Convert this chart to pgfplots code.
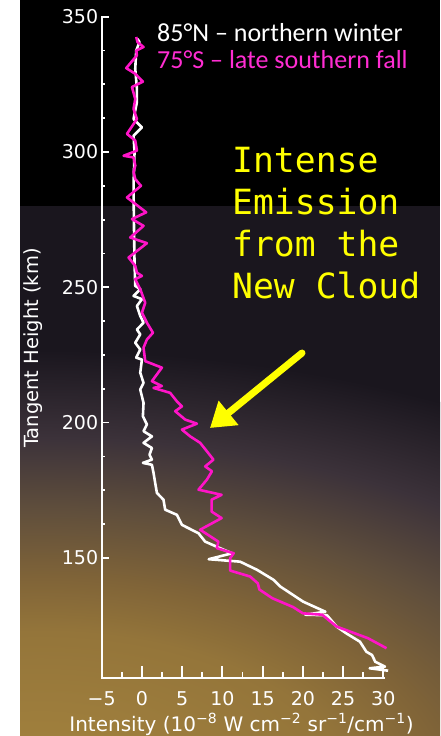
\documentclass[border=0pt]{standalone}
\usepackage{fontspec}
\setmainfont{DejaVu Sans}
\newfontfamily\legfont{Carlito}
\newfontfamily\yelfont{DejaVu Sans Mono}
\usepackage{pgfplots}
\pgfplotsset{compat=1.18}
\usetikzlibrary{arrows.meta}
\definecolor{mag}{RGB}{255,20,200}
\definecolor{legmag}{RGB}{255,45,210}
\definecolor{basec}{RGB}{26,22,30}
\definecolor{gA}{RGB}{165,132,62}
\definecolor{gB}{RGB}{148,117,58}
\definecolor{gC}{RGB}{128,100,56}
\definecolor{gD}{RGB}{95,78,60}
\definecolor{gE}{RGB}{60,50,58}
\definecolor{yel}{RGB}{255,255,0}
\pgfdeclareradialshading{glow}{\pgfpoint{0bp}{0bp}}{color(0bp)=(gA); color(9bp)=(gB); color(12bp)=(gC); color(16bp)=(gD); color(20bp)=(gE); color(25bp)=(basec); color(50bp)=(basec)}
\begin{document}
\begin{tikzpicture}[x=1pt,y=1pt]
\useasboundingbox (0,0) rectangle (440,-736);
\fill[white] (0,0) rectangle (20,-736);
\fill[black] (20,0) rectangle (440,-206);
\fill[basec] (20,-206) rectangle (440,-736);
\begin{scope}
\clip (20,-206) rectangle (440,-736);
\shade[shading=glow] (40,-790) ellipse [x radius=850, y radius=440];
\end{scope}
\begin{axis}[
  at={(101.7pt,-678pt)}, anchor=south west,
  scale only axis, width=281.6pt, height=661.3pt,
  xmin=-5, xmax=30, ymin=105.6, ymax=350,
  axis lines*=left,
  axis line style={white, line width=2.4pt, line cap=rect},
  xtick={-5,0,5,10,15,20,25,30},
  xticklabels={−5,0,5,10,15,20,25,30},
  ytick={150,200,250,300,350},
  yticklabels={150,200,250,300,350},
  minor x tick num=1, minor y tick num=3,
  tick align=inside,
  xtick style={white, line width=1.8pt, /pgfplots/major tick length=12pt, /pgfplots/minor tick length=6pt},
  ytick style={white, line width=1.8pt, /pgfplots/major tick length=7pt, /pgfplots/minor tick length=3.5pt},
  ticklabel style={white, font=\fontsize{19}{19}\selectfont},
  xticklabel style={yshift=-10pt},
  clip=false,
]
\addplot[white, line width=2.6pt, line join=round] coordinates {
(-0.55,341.8) (-0.3,340.6) (-0.71,337.5) (-0.83,330.7) (-0.62,323.3) (-0.62,318.5) (-1.04,312.2) (0,309.1) (-1.04,306) (-0.92,299.9) (-1.0,292) (-1.04,287.5) (-1.0,275) (-0.95,265) (-0.92,259.1) (-0.83,250.5) (-0.21,249.3) (-1.04,246.8) (0,245.6) (-0.62,243.1) (-0.21,239.4) (0.2,236.9) (-0.62,234.4) (-0.21,232.6) (-0.83,229.5) (-0.21,227) (-0.71,224) (0,223.3) (-0.21,218.4) (0.2,214.7) (-0.21,212.2) (0.2,207.3) (0.12,202.3) (0.62,199.3) (0.2,196.8) (1.24,194.9) (0.2,192.5) (1.24,190.6) (0.94,188.1) (1.24,186.3) (0.12,185.1) (1.24,184.4) (1.44,181.4) (1.65,177.7) (1.86,174) (2.68,171.5) (2.89,167.8) (4.35,165.9) (4.97,162.2) (7.03,159.1) (7.86,156) (9.7,153.6) (11.2,151.7) (8.3,149.5) (12.2,148.6) (14.3,145.6) (16.35,141.9) (17.2,139.4) (20.05,133.8) (22.8,130.1) (20.3,129) (23.0,128.8) (24.2,124.6) (25.4,122.1) (27.1,119) (27.9,115.3) (28.6,114.1) (29,111.6) (30.2,109.8) (28.3,109.2) (30.6,108.3)
};
\addplot[mag, line width=2.6pt, line join=round] coordinates {
(-0.71,342.5) (-0.55,340.6) (0.2,338.8) (-0.71,337.5) (-0.62,335.7) (-1.95,331) (-0.83,328.9) (0.12,326) (-1.24,324) (-0.83,319.6) (-1.04,315.9) (-0.62,312.2) (-1.86,306.7) (-0.83,304.2) (-0.62,300.5) (-2.28,298.6) (-1.04,298) (-0.83,295) (-1.04,292.5) (-0.83,290) (-0.12,287.5) (-1.86,283.2) (0.53,277.7) (-1.24,275.2) (0.2,272.7) (-1.45,268.4) (0.62,266.3) (-1.66,261) (-0.83,257.9) (-0.62,255.4) (0,254.2) (-0.83,253) (-0.21,249.3) (0.41,244.3) (0,240.6) (0.62,236.9) (1.37,233.2) (0.62,230.7) (0.2,227.7) (0.41,222.7) (2.48,220.3) (1.24,215.3) (2.48,213.5) (1.44,212.8) (3.5,211) (4.33,207.9) (4.97,206) (4.14,204.2) (5.38,201.1) (6.83,199.6) (4.97,197.4) (6.0,194.9) (7.24,192.5) (8.07,189.4) (8.89,186.3) (7.86,183.8) (8.7,182) (8.07,178.9) (7.03,175.2) (9.9,173.3) (8.66,171.5) (8.66,167.1) (9.9,164.7) (7.24,160.4) (9.5,156) (9.3,153.6) (11.4,151.7) (10.97,149.9) (10.97,145.3) (13.45,143.1) (14.4,140.6) (14.6,138.3) (16.2,135.1) (18.8,131.8) (20.0,129.5) (22.4,129) (24.2,124.6) (28.1,120.3) (30.4,116.6)
};
\end{axis}
\node[anchor=base, inner sep=0, white, rotate=90, font=\fontsize{19.5}{19.5}\selectfont] at (38.3,-348) {Tangent Height (km)};
\node[anchor=base, inner sep=0, white, font=\fontsize{20}{20}\selectfont] at (241.5,-731) {Intensity (10\textsuperscript{−8} W cm\textsuperscript{−2} sr\textsuperscript{−1}/cm\textsuperscript{−1})};
\node[anchor=base west, inner sep=0, white, font=\legfont\fontsize{26}{26}\selectfont] at (157,-41) {85°N – northern winter};
\node[anchor=base west, inner sep=0, legmag, font=\legfont\fontsize{26}{26}\selectfont] at (157,-68.3) {75°S – late southern fall};
\begin{scope}[every node/.style={anchor=base west, inner sep=0, text=yel, font=\yelfont\fontsize{34.7}{34.7}\selectfont}]
\node at (232,-172) {Intense};
\node at (232,-214) {Emission};
\node at (232,-256) {from the};
\node at (232,-298) {New Cloud};
\end{scope}
\draw[yel, line width=7pt, line cap=round, -{Triangle[length=24pt,width=30pt]}] (302,-353) -- (210,-428);
\end{tikzpicture}
\end{document}
